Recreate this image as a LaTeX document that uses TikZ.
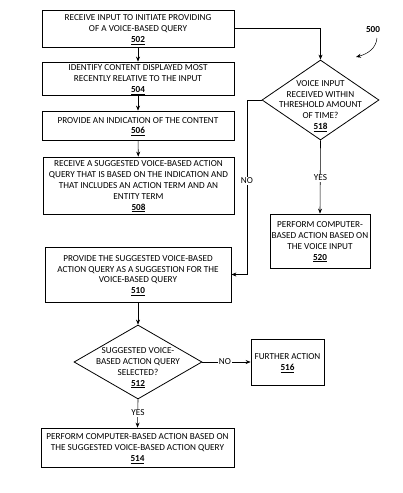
\documentclass[tikz,border=0pt]{standalone}
\usepackage{fontspec}
\setmainfont{Carlito}
\usetikzlibrary{arrows.meta,shapes.geometric}

\newcommand{\refnum}[1]{\raisebox{0pt}[\height][0pt]{\underline{\textbf{#1}}}}

\begin{document}
\begin{tikzpicture}[
  x=1pt, y=-1pt,
  >={Stealth[length=5pt,width=4pt]},
  every node/.style={font=\fontsize{9.2}{10.8}\selectfont, align=center},
  box/.style={draw, line width=0.8pt, rectangle, inner sep=0pt},
  decision/.style={draw, line width=0.8pt, diamond, inner sep=0pt},
  flow/.style={->, line width=0.6pt},
  tag/.style={fill=white, inner sep=1pt},
]
\useasboundingbox (0,0) rectangle (402,493);

% Left column
\node[box, minimum width=192pt, minimum height=37pt] (b502) at (138,28.5)
  {RECEIVE INPUT TO INITIATE PROVIDING\\OF A VOICE-BASED QUERY\\\refnum{502}};
\node[box, minimum width=192pt, minimum height=33pt] (b504) at (138,78.5)
  {IDENTIFY CONTENT DISPLAYED MOST\\RECENTLY RELATIVE TO THE INPUT\\\refnum{504}};
\node[box, minimum width=192pt, minimum height=29pt] (b506) at (138,125.5)
  {PROVIDE AN INDICATION OF THE CONTENT\\\refnum{506}};
\node[box, minimum width=191pt, minimum height=57pt] (b508) at (138.5,185.5)
  {RECEIVE A SUGGESTED VOICE-BASED ACTION\\QUERY THAT IS BASED ON THE INDICATION AND\\THAT INCLUDES AN ACTION TERM AND AN\\ENTITY TERM\\\refnum{508}};
\node[box, minimum width=186pt, minimum height=55pt] (b510) at (138,274.5)
  {PROVIDE THE SUGGESTED VOICE-BASED\\ACTION QUERY AS A SUGGESTION FOR THE\\VOICE-BASED QUERY\\\refnum{510}};
\node[decision, minimum width=128pt, minimum height=74pt] (d512) at (138,362) {};
\node at (138,367) {SUGGESTED VOICE-\\BASED ACTION QUERY\\SELECTED?\\\refnum{512}};
\node[box, minimum width=193pt, minimum height=39pt] (b514) at (137.5,447.5)
  {PERFORM COMPUTER-BASED ACTION BASED ON\\THE SUGGESTED VOICE-BASED ACTION QUERY\\\refnum{514}};
\node[box, minimum width=73pt, minimum height=46pt] (b516) at (287.5,362)
  {FURTHER ACTION\\\refnum{516}};

% Right column
\node[decision, minimum width=117pt, minimum height=80pt] (d518) at (320.5,100) {};
\node at (320.5,105) {VOICE INPUT\\RECEIVED WITHIN\\THRESHOLD AMOUNT\\OF TIME?\\\refnum{518}};
\node[box, minimum width=100pt, minimum height=54pt] (b520) at (320,241)
  {PERFORM COMPUTER-\\BASED ACTION BASED ON\\THE VOICE INPUT\\\refnum{520}};

% Figure number
\node[font=\fontsize{9.2}{11}\selectfont\bfseries] (fig) at (373,30) {500};
\coordinate (figtip) at (356,57);
\draw[->, line width=0.5pt] (377,38) to[out=-95, in=15] (figtip);

% Connectors
\draw[flow] (b502) -- (b504);
\draw[flow] (b504) -- (b506);
\draw[flow] (b506) -- (b508);
\draw[flow] (b502.east) -| (d518.north);
\draw[flow] (d518.west) -- (247,100) -- (247,274.5) -- (b510.east);
\node[tag] (no518) at (247,181) {NO};
\draw[flow] (d518.south) -- (b520.north);
\node[tag] (yes518) at (320.5,178) {YES};
\draw[flow] (b510) -- (d512.north);
\draw[flow] (d512.east) -- (b516.west);
\node[tag] (no512) at (225,362) {NO};
\draw[flow] (d512.south) -- (b514.north);
\node[tag] (yes512) at (138,413) {YES};
\end{tikzpicture}
\end{document}
